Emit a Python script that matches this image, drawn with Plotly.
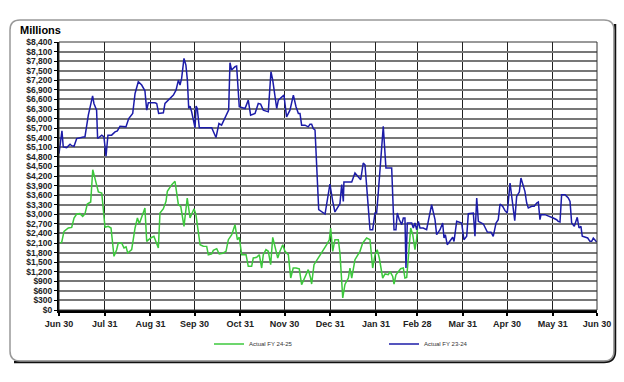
import plotly.graph_objects as go

# Day offsets from Jun 30 and values ($ millions)
days_fy2324 = [0, 2.0, 2.9, 5.2, 7.5, 8.6, 10.2, 12.0, 16.5, 17.6, 19.9, 22.8, 23.7, 25.5, 26.2, 29.0,
               30.5, 31.9, 33.2, 35.7, 38.0, 39.6, 41.4, 43.6, 45.4, 47.3, 50.0, 51.6, 53.8, 56.1, 58.3,
               59.5, 60.6, 65.1, 66.3, 67.6, 70.8, 71.9, 74.2, 77.6, 79.4, 81.0, 82.1, 83.2, 84.8, 86.1,
               87.1, 88.0, 88.9, 90.0, 92.3, 93.0, 93.8, 95.2, 100.2, 103.6, 106.5, 108.5, 110.3, 113.7,
               115.1, 116.0, 117.1, 119.4, 120.5, 122.3, 126.2, 128.4, 130.0, 133.0, 135.2, 136.8, 138.6,
               142.0, 143.8, 145.0, 147.7, 148.8, 152.6, 154.4, 156.7, 159.0, 160.8, 162.4, 163.5, 164.6,
               166.9, 169.1, 170.3, 171.4, 172.5, 173.7, 174.8, 176.2, 180.5, 183.8, 185.7, 187.2, 189.5,
               190.6, 191.8, 192.9, 193.3, 196.3, 198.6, 200.8, 203.1, 204.7, 206.4, 207.6, 211.0, 212.8,
               214.4, 215.5, 216.6, 217.8, 220.0, 221.8, 225.7, 227.3, 228.6, 229.5, 230.9, 232.5, 233.6,
               234.7, 235.4, 236.3, 239.3, 240.4, 241.5, 242.7, 243.8, 244.9, 247.1, 249.4, 251.2, 252.8,
               255.1, 256.2, 258.5, 260.3, 261.2, 262.1, 263.4, 265.3, 267.1, 268.0, 269.8, 273.2, 274.7,
               276.6, 277.7, 281.1, 282.2, 283.4, 284.5, 287.9, 290.6, 293.1, 294.6, 296.5, 298.0, 299.2,
               301.0, 302.6, 304.1, 306.0, 307.5, 309.2, 310.5, 312.3, 313.4, 315.0, 316.1, 317.3, 318.4,
               320.7, 322.4, 324.1, 325.2, 326.3, 327.0, 329.7, 333.1, 335.3, 337.6, 338.7, 339.9, 341.0,
               343.3, 345.5, 346.7, 347.8, 349.6, 350.5, 351.6, 352.8, 354.1, 355.0, 356.8, 358.7, 360.2,
               361.4, 362.5, 363.6, 364.8]
values_fy2324 = [4900, 5615, 5110, 5090, 5195, 5150, 5130, 5375, 5425, 5425, 6107, 6714, 6474, 6264, 5375, 5480,
                 5425, 4820, 5480, 5480, 5584, 5615, 5760, 5740, 5740, 6000, 6160, 6788, 7154, 7050, 6870,
                 6264, 6494, 6494, 6474, 6160, 6180, 6474, 6578, 6735, 6892, 7206, 7050, 7258, 7887, 7677,
                 7206, 6316, 6390, 6210, 5710, 6390, 6316, 5710, 5710, 5710, 5405, 5845, 5793, 6107,
                 6264, 7750, 7520, 7625, 7646, 6370, 6316, 6578, 6107, 6160, 6474, 6453, 6264,
                 6211, 7468, 7206, 6316, 6578, 6735, 6055, 6264, 6735, 6370, 6160, 6160, 5793,
                 5793, 5740, 5825, 5825, 5690, 5640, 4346, 3144, 3009, 3949, 3405, 3072, 3250,
                 3332, 3928, 3405, 4012, 4012, 4012, 4294, 4190, 4085, 4607, 4550, 2517, 2517,
                 3040, 3040, 3667, 4350, 5757, 4450, 4450, 2517, 2517, 3040, 2830, 2674, 2883,
                 2883, 1316, 2727, 2727, 2570, 2727, 2517, 2779, 2570, 2570, 2517, 2884, 3300,
                 2832, 2360, 2517, 2727, 2257, 2360, 2047, 2152, 2278, 2150, 2779, 2727, 2204,
                 2310, 3020, 3040, 2310, 3510, 2779, 2695, 2444, 2440, 2310, 2727, 2832, 3322,
                 3250, 3113, 3040, 3980, 3405, 2800, 3563, 3698, 4137, 3900, 3719, 3354, 3197,
                 3250, 3250, 3354, 3385, 2832, 2988, 2988, 2936, 2884, 2830, 2779, 2760, 3615,
                 3615, 3510, 3400, 2727, 2622, 2727, 2904, 2570, 2622, 2310, 2290, 2257, 2152,
                 2152, 2257, 2200, 2131]

days_fy2425 = [0.7, 1.8, 3.4, 6.3, 8.6, 10.2, 12.0, 14.2, 16.1, 17.6, 19.2, 21.5, 22.9, 23.7, 25.1, 26.7,
               29.0, 31.2, 33.4, 35.3, 37.3, 39.1, 40.2, 42.5, 44.1, 45.5, 46.6, 49.3, 51.6, 53.2, 54.5,
               56.1, 58.3, 59.5, 62.2, 64.4, 67.4, 68.5, 70.8, 72.6, 73.5, 76.5, 78.7, 81.0, 82.6, 84.8,
               87.0, 88.9, 91.6, 92.9, 95.7, 97.9, 100.2, 101.3, 103.6, 104.7, 107.0, 108.7, 111.1, 113.3,
               114.9, 117.2, 119.4, 121.0, 122.3, 123.9, 126.9, 128.4, 130.7, 131.8, 134.1, 135.9, 137.5,
               138.6, 140.4, 142.0, 143.6, 145.0, 146.5, 148.4, 149.9, 151.8, 153.3, 155.6, 157.2, 158.9,
               160.8, 163.0, 164.6, 166.9, 169.1, 170.7, 171.4, 173.0, 175.9, 179.3, 181.6, 183.4, 184.3,
               185.7, 187.2, 189.5, 190.6, 192.5, 194.0, 196.3, 197.4, 198.6, 200.8, 204.2, 206.0, 208.7,
               211.0, 212.8, 214.4, 215.9, 217.3, 219.6, 221.2, 223.4, 224.6, 226.4, 227.3, 228.6, 230.2,
               231.8, 233.6, 234.7, 235.9, 237.0, 238.6, 240.0, 241.5, 242.7, 243.3]
values_fy2425 = [2100, 2120, 2465, 2570, 2590, 2884, 3009, 3020, 2936, 3009, 3322, 3385, 4398, 4240, 4033, 3698,
                 3667, 2591, 2622, 2570, 1683, 1890, 2100, 2100, 1943, 1980, 1787, 1890, 2570, 2884, 2700,
                 2884, 3197, 2152, 2257, 2310, 1943, 3040, 3176, 3405, 3719, 3928, 4033, 3300, 3250, 2622,
                 3510, 2884, 3176, 2990, 2047, 2000, 1995, 1733, 1760, 1870, 1922, 1755, 1780, 1839,
                 2204, 2360, 2674, 2204, 2280, 1733, 1733, 1369, 1369, 1630, 1650, 1733, 1316,
                 1733, 1890, 1840, 1420, 2278, 1990, 1630, 1840, 2047, 1840, 1733, 1003, 1316,
                 1316, 1290, 793, 1020, 1264, 1003, 815, 1420, 1630, 1839, 2047, 2200, 2570,
                 1839, 2204, 2204, 1787, 376, 800, 1003, 1316, 1003, 1577, 1839, 2100, 2257,
                 2204, 1316, 1733, 1890, 1630, 1003, 1130, 1107, 1200, 1050, 815, 1100, 1200,
                 1295, 1316, 1003, 1020, 1630, 2570, 2360, 1890, 2257, 2622]

tick_days = [0, 31, 62, 92, 123, 153, 184, 215, 243, 274, 304, 335, 365]
tick_labels = ["Jun 30", "Jul 31", "Aug 31", "Sep 30", "Oct 31", "Nov 30", "Dec 31",
               "Jan 31", "Feb 28", "Mar 31", "Apr 30", "May 31", "Jun 30"]
y_ticks = list(range(0, 8401, 300))
y_labels = ["${:,}".format(v) for v in y_ticks]

fig = go.Figure()
fig.add_trace(go.Scatter(x=days_fy2425, y=values_fy2425, mode="lines", name="Actual FY 24-25",
                         line=dict(color="#3CC83C", width=1.5)))
fig.add_trace(go.Scatter(x=days_fy2324, y=values_fy2324, mode="lines", name="Actual FY 23-24",
                         line=dict(color="#1C1CA8", width=1.5)))

L, R, T, B = 59, 597, 42, 310
W, H = R - L, B - T


def px(x):
    return (x - L) / W


def py(y):
    return (B - y) / H


# rounded frame
x0, x1, y0, y1, r = 10, 614, 20, 361, 10
path = (f"M {px(x0 + r)},{py(y0)} L {px(x1 - r)},{py(y0)} Q {px(x1)},{py(y0)} {px(x1)},{py(y0 + r)} "
        f"L {px(x1)},{py(y1 - r)} Q {px(x1)},{py(y1)} {px(x1 - r)},{py(y1)} "
        f"L {px(x0 + r)},{py(y1)} Q {px(x0)},{py(y1)} {px(x0)},{py(y1 - r)} "
        f"L {px(x0)},{py(y0 + r)} Q {px(x0)},{py(y0)} {px(x0 + r)},{py(y0)} Z")
shadow = (f"M {px(x1 + 1)},{py(y0 + 4)} L {px(x1 + 1)},{py(y1 - r)} Q {px(x1 + 1)},{py(y1 + 1)} {px(x1 - r)},{py(y1 + 1)} "
          f"L {px(x0 + 4)},{py(y1 + 1)}")

fig.update_layout(
    width=624, height=382,
    margin=dict(l=L, r=624 - R, t=T, b=382 - B),
    paper_bgcolor="white", plot_bgcolor="white",
    font=dict(family="Liberation Sans, Arial, sans-serif", color="#000"),
    showlegend=True,
    legend=dict(orientation="h", x=px(209), y=py(344), xanchor="left", yanchor="middle",
                font=dict(size=6, color="#333"), entrywidth=130, entrywidthmode="pixels",
                bgcolor="rgba(0,0,0,0)"),
    xaxis=dict(range=[0, 365], tickmode="array", tickvals=tick_days, ticktext=tick_labels,
               showgrid=True, gridcolor="#222", gridwidth=1, zeroline=False,
               showline=True, linecolor="#000", linewidth=2.5, mirror=False,
               ticks="outside", ticklen=3, tickcolor="#000", tickwidth=1.5,
               tickfont=dict(size=9, weight="bold", color="#222")),
    yaxis=dict(range=[0, 8400], tickmode="array", tickvals=y_ticks, ticktext=y_labels,
               showgrid=True, gridcolor="#777", gridwidth=1.8, zeroline=False,
               showline=True, linecolor="#000", linewidth=2,
               ticks="outside", ticklen=3, tickcolor="#000", tickwidth=1,
               tickfont=dict(size=8.5, weight="bold", color="#222")),
    shapes=[
        dict(type="path", xref="paper", yref="paper", path=shadow,
             line=dict(color="#111", width=2.5), layer="below"),
        dict(type="path", xref="paper", yref="paper", path=path,
             line=dict(color="#999", width=1.5), layer="below"),
        dict(type="rect", xref="paper", yref="paper", x0=0, x1=1, y0=0, y1=1,
             line=dict(color="#333", width=1), layer="above"),
    ],
    annotations=[dict(text="<b>Millions</b>", xref="paper", yref="paper", x=px(18), y=py(30),
                      xanchor="left", yanchor="middle", showarrow=False,
                      font=dict(size=11, color="#000"))],
)

fig.write_html("out.html", config={"displayModeBar": False},
               post_script="document.body.style.margin='0';document.body.style.padding='0';")
